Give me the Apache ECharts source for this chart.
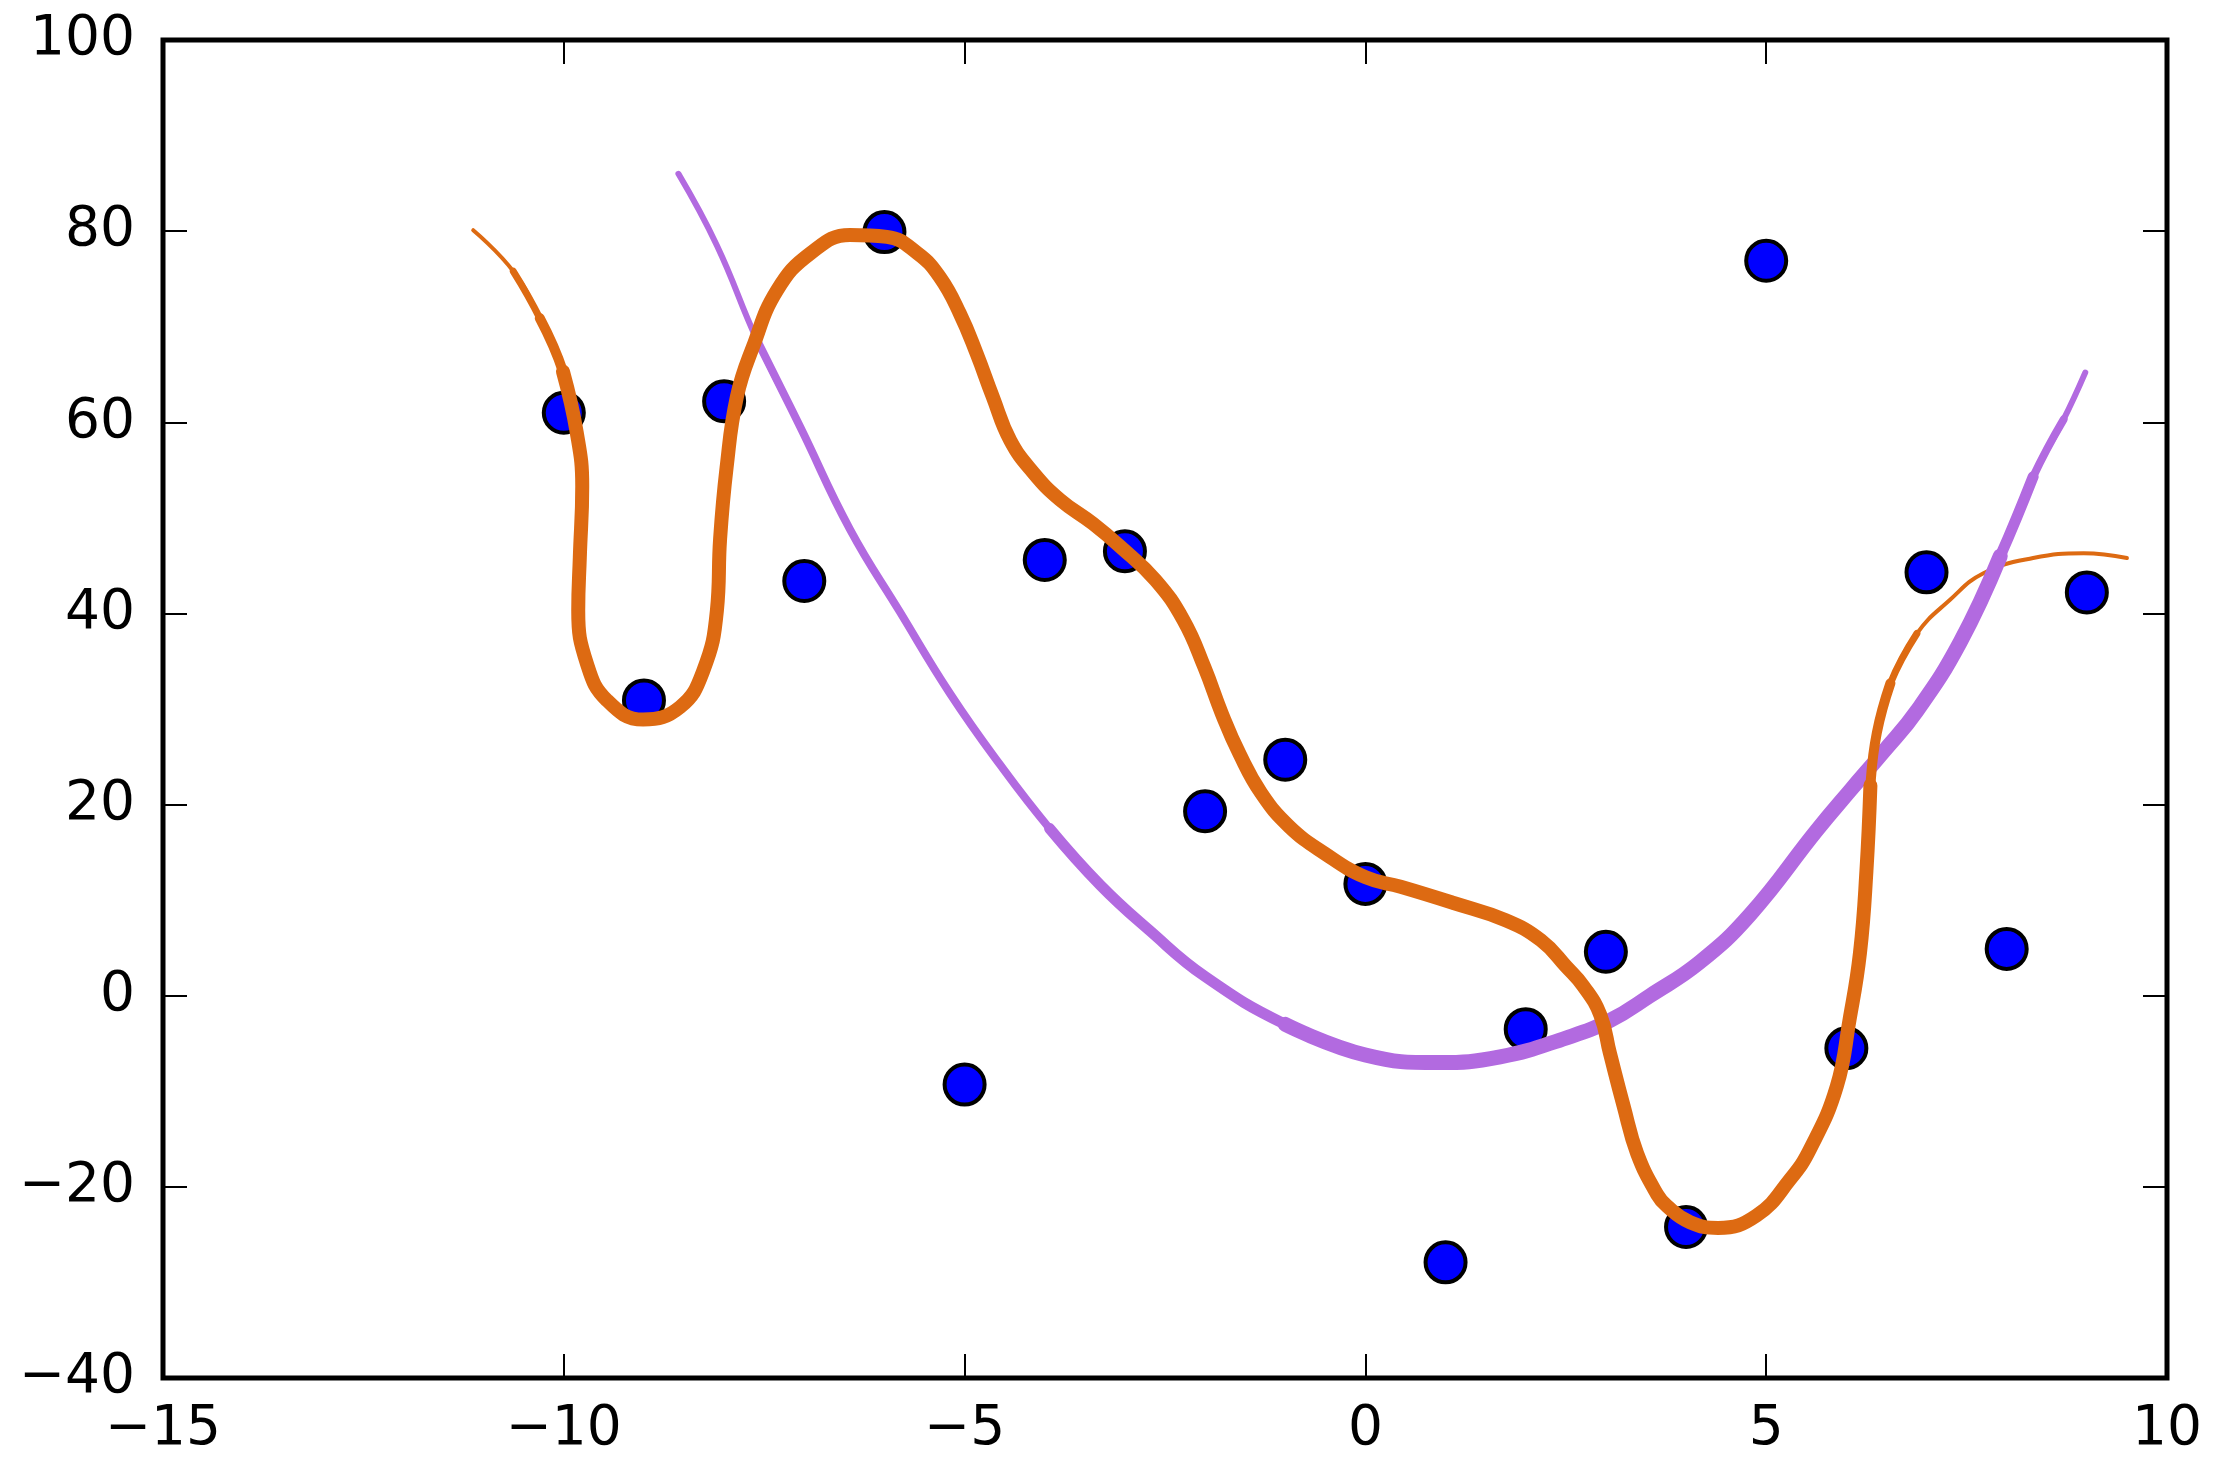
<!DOCTYPE html>
<html>
<head>
<meta charset="utf-8">
<title>fits</title>
<script src="https://cdn.jsdelivr.net/npm/echarts@6/dist/echarts.min.js"></script>
<style>
  html, body { margin: 0; padding: 0; background: #fff; }
  #chart { width: 2215px; height: 1461px; }
</style>
</head>
<body>
<div id="chart"></div>
<script>
// scatter points
var pointX = [-10, -9, -8, -7, -6, -5, -4, -3, -2, -1, 0, 1, 2, 3, 4, 5, 6, 7, 8, 9];
var pointY = [61.0, 30.9, 62.2, 43.4, 79.9, -9.3, 45.6, 46.5, 19.3, 24.7, 11.7, -27.9, -3.5, 4.6, -24.2, 76.9, -5.5, 44.3, 4.9, 42.2];

// orange fit
var orangeX = [-11.13, -10.63, -10.30, -10.01, -9.84, -9.77, -9.80, -9.82, -9.71, -9.46, -9.01, -8.55, -8.26, -8.09, -8.05, -7.97, -7.84, -7.64, -7.34, -6.92,
  -6.43, -5.97, -5.59, -5.31, -5.06, -4.85, -4.65, -4.43, -4.14, -3.81, -3.40, -3.06, -2.62, -2.27, -2.01, -1.79, -1.57, -1.30, -0.95, -0.51,
  0.00, 0.44, 1.10, 1.75, 2.19, 2.51, 2.72, 2.93, 3.05, 3.22, 3.39, 3.64, 3.76, 4.05, 4.40, 4.88, 5.30, 5.55, 5.88, 6.04,
  6.17, 6.25, 6.30, 6.38, 6.55, 6.88, 7.29, 7.71, 8.33, 8.96, 9.50];
var orangeY = [80.1, 75.8, 70.9, 65.3, 59.0, 53.3, 45.9, 40.3, 34.7, 30.9, 28.9, 30.2, 34.0, 40.3, 47.8, 55.2, 62.7, 67.9, 73.8, 77.7,
  79.6, 79.4, 77.7, 75.2, 71.4, 67.2, 62.7, 58.1, 54.7, 51.9, 49.4, 47.0, 43.5, 39.3, 34.4, 29.5, 25.3, 21.2, 17.7, 14.9,
  12.4, 11.4, 9.7, 7.9, 5.8, 3.0, 1.0, -2.0, -6.0, -11.5, -16.5, -20.8, -22.0, -23.7, -24.3, -23.0, -19.2, -16.0, -9.5, -2.5,
  4.5, 13.0, 22.0, 27.5, 32.7, 37.9, 41.4, 44.2, 45.8, 46.3, 45.8];

// purple fit
var purpleX = [-8.57, -8.09, -7.59, -7.05, -6.43, -5.81, -5.18, -4.56, -3.94, -3.31, -2.69, -2.00, -1.00, 0.00, 0.90,
  1.68, 2.51, 3.05, 3.55, 4.17, 4.80, 5.63, 6.05, 6.46, 6.88, 7.42, 7.92, 8.33, 8.71, 8.98];
var purpleY = [86.0, 78.5, 68.6, 59.5, 48.8, 40.2, 31.6, 24.2, 17.5, 11.6, 6.8, 2.0, -3.0, -6.2, -7.0,
  -6.4, -4.4, -2.6, 0.0, 3.5, 8.5, 17.3, 21.5, 25.5, 29.8, 37.0, 46.0, 54.3, 60.3, 65.2];

var xTicks = { min: -15, max: 10, step: 5 };
var yTicks = { min: -40, max: 100, step: 20 };

function pairs(xs, ys) {
  return xs.map(function (x, i) { return [x, ys[i]]; });
}
function minus(v) { return String(v).replace('-', '\u2212'); }

var orange = '#dd6a12';
var purple = '#b26ae0';
var font = 'DejaVu Sans';

var tickStyle = { show: true, inside: true, length: 24, lineStyle: { color: '#000', width: 2 } };
var labelStyle = { fontFamily: font, fontSize: 55, color: '#000', formatter: minus };
var noLine = { show: false, onZero: false };

// the fits look like bundles of thin lines: stack a few widths so the ends taper
function line(data, color, width, z) {
  return {
    type: 'line', data: data, showSymbol: false, smooth: 0.45, z: z,
    lineStyle: { color: color, width: width, cap: 'round', join: 'round' },
    silent: true
  };
}

var orangeData = pairs(orangeX, orangeY);
var purpleData = pairs(purpleX, purpleY);

var chart = echarts.init(document.getElementById('chart'));
chart.setOption({
  animation: false,
  grid: { left: 163, right: 48, top: 40, bottom: 83, show: true, borderColor: '#000', borderWidth: 5, backgroundColor: 'transparent', z: 10 },
  xAxis: [
    { type: 'value', position: 'bottom', min: xTicks.min, max: xTicks.max, interval: xTicks.step,
      axisLine: noLine, splitLine: { show: false }, axisTick: tickStyle,
      axisLabel: Object.assign({ margin: 24 }, labelStyle) },
    { type: 'value', position: 'top', min: xTicks.min, max: xTicks.max, interval: xTicks.step,
      axisLine: noLine, splitLine: { show: false }, axisTick: tickStyle, axisLabel: { show: false } }
  ],
  yAxis: [
    { type: 'value', position: 'left', min: yTicks.min, max: yTicks.max, interval: yTicks.step,
      axisLine: noLine, splitLine: { show: false }, axisTick: tickStyle,
      axisLabel: Object.assign({ margin: 28 }, labelStyle) },
    { type: 'value', position: 'right', min: yTicks.min, max: yTicks.max, interval: yTicks.step,
      axisLine: noLine, splitLine: { show: false }, axisTick: tickStyle, axisLabel: { show: false } }
  ],
  series: [
    {
      type: 'scatter', data: pairs(pointX, pointY), symbolSize: 40, z: 1,
      itemStyle: { color: '#0000ff', borderColor: '#000', borderWidth: 4, opacity: 1 }
    },
    line(orangeData, orange, 4, 2),
    line(purpleData, purple, 6, 3),
    line(purpleData.slice(2, 29), purple, 8, 4),
    line(purpleData.slice(8, 28), purple, 11, 5),
    line(purpleData.slice(12, 27), purple, 15, 6),
    line(orangeData.slice(1, 66), orange, 7, 7),
    line(orangeData.slice(2, 65), orange, 10, 8),
    line(orangeData.slice(3, 63), orange, 14, 9)
  ]
});
</script>
</body>
</html>
